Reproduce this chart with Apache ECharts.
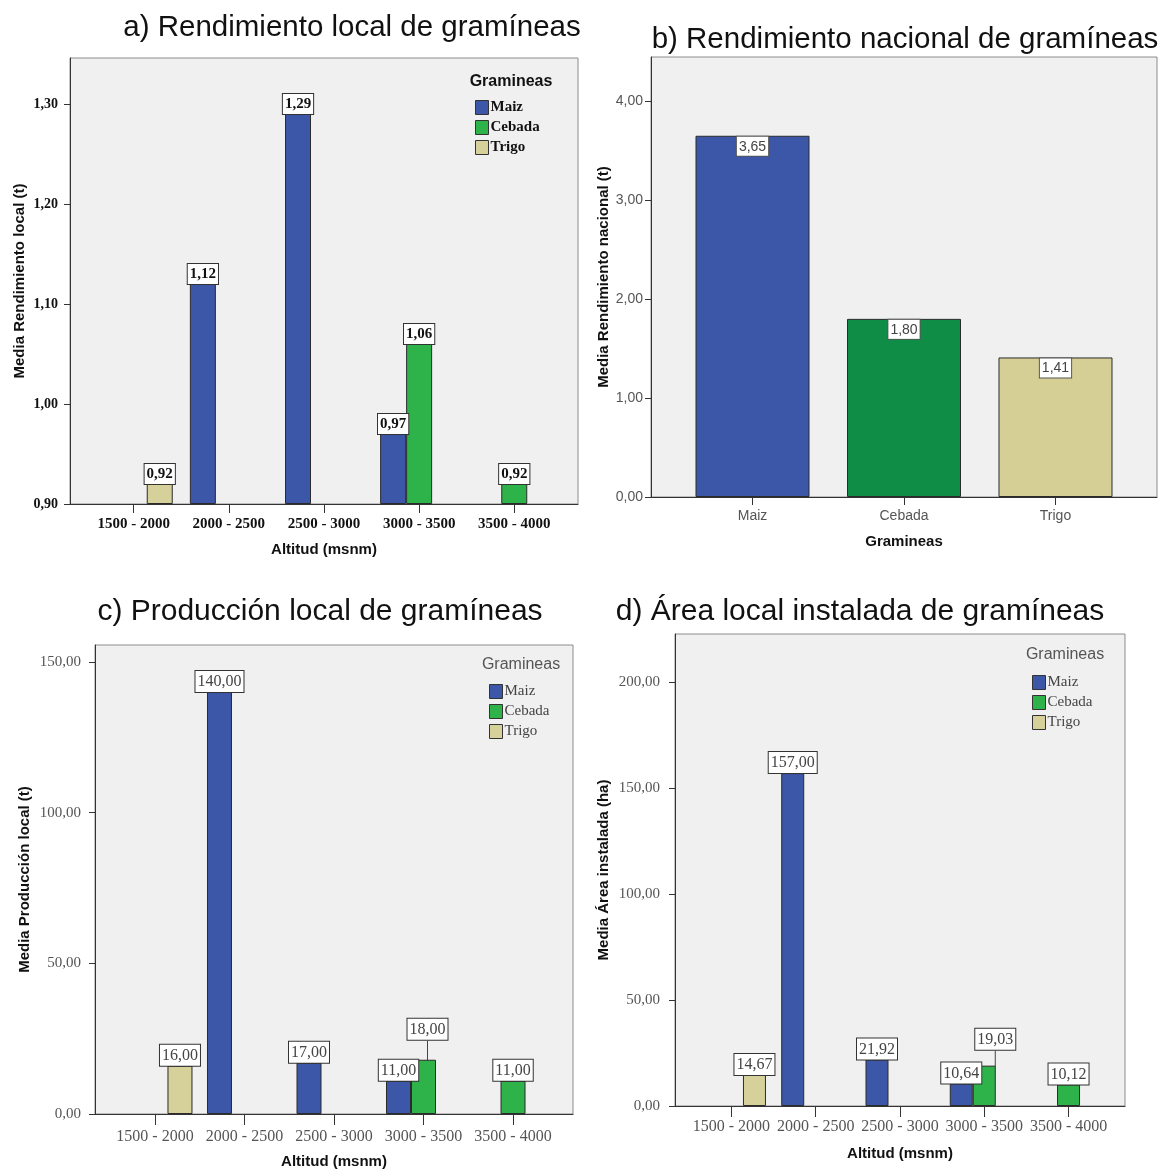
<!DOCTYPE html>
<html>
<head>
<meta charset="utf-8">
<script src="https://cdn.jsdelivr.net/npm/echarts@6/dist/echarts.min.js"></script>
<style>
  html, body { margin: 0; padding: 0; background: #ffffff; }
  #chart { width: 1161px; height: 1169px; }
</style>
</head>
<body>
<div id="chart"></div>
<script>
// Altitude bands (msnm) and crop names
const altitudes = ['1500 - 2000', '2000 - 2500', '2500 - 3000', '3000 - 3500', '3500 - 4000'];
const crops = ['Maiz', 'Cebada', 'Trigo'];

// a) Mean local yield (t) per altitude band
const rendLocalMaiz   = [null, 1.12, 1.29, 0.97, null];
const rendLocalCebada = [null, null, null, 1.06, 0.92];
const rendLocalTrigo  = [0.92, null, null, null, null];

// b) Mean national yield (t) per crop
const rendNacional = [3.65, 1.80, 1.41];

// c) Mean local production (t) per altitude band
const prodLocalMaiz   = [null, 140.00, 17.00, 11.00, null];
const prodLocalCebada = [null, null, null, 18.00, 11.00];
const prodLocalTrigo  = [16.00, null, null, null, null];

// d) Mean installed area (ha) per altitude band
const areaMaiz   = [null, 157.00, 21.92, 10.64, null];
const areaCebada = [null, null, null, 19.03, 10.12];
const areaTrigo  = [14.67, null, null, null, null];

// Value-axis tick labels
const yTicksA = [0.90, 1.00, 1.10, 1.20, 1.30];
const yTicksB = [0, 1, 2, 3, 4];
const yTicksC = [0, 50, 100, 150];
const yTicksD = [0, 50, 100, 150, 200];

const SANS = '"Liberation Sans", Arial, sans-serif';
const NARROW = '"Liberation Sans Narrow", "Liberation Sans", Arial, sans-serif';
const SERIF = '"Liberation Serif", "Times New Roman", serif';

const CROP_COLOR = { Maiz: '#3c56a8', Cebada: '#2db34a', Trigo: '#d6d09a' };
const NATIONAL_COLOR = ['#3c56a8', '#0f8c45', '#d5cf96'];

const fmt2 = v => Number(v).toFixed(2).replace('.', ',');

// category slots sit at 1..n on a value axis, so the outer padding can be set freely
const altPos = altitudes.map((_, i) => i + 1);
const cropPos = crops.map((_, i) => i + 1);

const grids = [
  { left: 70,  top: 58,  width: 508, height: 446 },   // a
  { left: 651, top: 57,  width: 506, height: 440 },   // b
  { left: 95,  top: 645, width: 478, height: 469 },   // c
  { left: 675, top: 634, width: 450, height: 472 }    // d
].map(g => Object.assign({
  show: true, backgroundColor: '#f0f0f0', borderColor: '#8c8c8c', borderWidth: 1,
  containLabel: false, outerBoundsMode: 'none'
}, g));

function xAxisFor(gridIndex, positions, names, o) {
  return {
    type: 'value', gridIndex: gridIndex,
    min: 0.33, max: positions.length + 0.67,
    axisLine: { show: true, onZero: false, lineStyle: { color: '#333', width: 1 } },
    axisTick: { show: true, customValues: positions, length: o.tickLen, lineStyle: { color: '#333' } },
    axisLabel: Object.assign({
      customValues: positions, hideOverlap: false,
      formatter: v => names[Math.round(v) - 1] || ''
    }, o.label),
    splitLine: { show: false },
    name: o.name, nameLocation: 'middle', nameGap: o.nameGap,
    nameTextStyle: { fontFamily: SANS, fontWeight: 'bold', fontSize: 15, color: '#111' }
  };
}

function yAxisFor(gridIndex, ticks, max, o) {
  return {
    type: 'value', gridIndex: gridIndex,
    min: ticks[0], max: max, startValue: ticks[0],
    axisLine: { show: true, lineStyle: { color: '#333', width: 1 } },
    axisTick: { show: true, customValues: ticks, length: 6, lineStyle: { color: '#333' } },
    axisLabel: Object.assign({ customValues: ticks, formatter: v => fmt2(v) }, o.label),
    splitLine: { show: false },
    name: o.name, nameLocation: 'middle', nameGap: o.nameGap,
    nameTextStyle: { fontFamily: SANS, fontWeight: 'bold', fontSize: 15, color: '#111' }
  };
}

function localSeries(axisIndex, crop, values, o) {
  const s = {
    type: 'bar', name: crop, xAxisIndex: axisIndex, yAxisIndex: axisIndex,
    data: values.map((v, i) => [altPos[i], v]),
    barWidth: o.barWidth, barGap: '0%',
    itemStyle: { color: CROP_COLOR[crop], borderColor: '#2b2b2b', borderWidth: 1 },
    label: Object.assign({
      show: true, position: 'top', distance: 0,
      formatter: p => (p.value[1] == null ? '' : fmt2(p.value[1])),
      backgroundColor: '#ffffff', borderColor: '#333', borderWidth: 1
    }, o.label),
    emphasis: { disabled: true }
  };
  if (o.shift) {
    // move a crowded label up and draw a guide line back to its bar
    s.labelLayout = p => (p.dataIndex === o.shift.index ? { dx: o.shift.dx, dy: o.shift.dy } : {});
    s.labelLine = { show: true, lineStyle: { color: '#444', width: 1 } };
  }
  return s;
}

const labelA = { fontFamily: SERIF, fontWeight: 'bold', fontSize: 15, color: '#111', padding: [3, 2, 2, 2] };
const labelCD = { fontFamily: SERIF, fontSize: 16, color: '#444', padding: [3, 2, 2, 2] };

const legendBase = {
  data: crops, orient: 'vertical', icon: 'rect',
  itemWidth: 13, itemHeight: 14, itemGap: 5, padding: 0, selectedMode: false,
  itemStyle: { borderColor: '#333', borderWidth: 1 }
};

const option = {
  animation: false,
  grid: grids,
  xAxis: [
    xAxisFor(0, altPos, altitudes, { tickLen: 9, nameGap: 38, name: 'Altitud (msnm)',
      label: { fontFamily: SERIF, fontWeight: 'bold', fontSize: 15, color: '#111', margin: 13 } }),
    xAxisFor(1, cropPos, crops, { tickLen: 8, nameGap: 37, name: 'Gramineas',
      label: { fontFamily: NARROW, fontSize: 14, color: '#555', margin: 12 } }),
    xAxisFor(2, altPos, altitudes, { tickLen: 11, nameGap: 40, name: 'Altitud (msnm)',
      label: { fontFamily: SERIF, fontSize: 16, color: '#555', margin: 15 } }),
    xAxisFor(3, altPos, altitudes, { tickLen: 11, nameGap: 40, name: 'Altitud (msnm)',
      label: { fontFamily: SERIF, fontSize: 16, color: '#555', margin: 13 } })
  ],
  yAxis: [
    yAxisFor(0, yTicksA, 1.346, { name: 'Media Rendimiento local (t)', nameGap: 43,
      label: { fontFamily: SERIF, fontWeight: 'bold', fontSize: 14, color: '#111', margin: 12 } }),
    yAxisFor(1, yTicksB, 4.446, { name: 'Media Rendimiento nacional (t)', nameGap: 40,
      label: { fontFamily: NARROW, fontSize: 14, color: '#555', margin: 8 } }),
    yAxisFor(2, yTicksC, 155.6, { name: 'Media Producción local (t)', nameGap: 63,
      label: { fontFamily: SERIF, fontSize: 15, color: '#555', margin: 14 } }),
    yAxisFor(3, yTicksD, 222.6, { name: 'Media Área instalada (ha)', nameGap: 64,
      label: { fontFamily: SERIF, fontSize: 15, color: '#555', margin: 15 } })
  ],
  legend: [
    Object.assign({}, legendBase, { left: 475, top: 100,
      textStyle: { fontFamily: SERIF, fontWeight: 'bold', fontSize: 15, color: '#111', padding: [0, 0, 0, -3] } }),
    Object.assign({}, legendBase, { left: 489, top: 684,
      textStyle: { fontFamily: SERIF, fontSize: 15, color: '#444', padding: [0, 0, 0, -3] } }),
    Object.assign({}, legendBase, { left: 1032, top: 675,
      textStyle: { fontFamily: SERIF, fontSize: 15, color: '#444', padding: [0, 0, 0, -3] } })
  ],
  graphic: [
    { type: 'text', x: 352, y: 28, style: { text: 'a) Rendimiento local de gramíneas', font: '29.5px ' + SANS, fill: '#111', textAlign: 'center', textVerticalAlign: 'middle' } },
    { type: 'text', x: 905, y: 40, style: { text: 'b) Rendimiento nacional de gramíneas', font: '29.5px ' + SANS, fill: '#111', textAlign: 'center', textVerticalAlign: 'middle' } },
    { type: 'text', x: 320, y: 612, style: { text: 'c) Producción local de gramíneas', font: '30px ' + SANS, fill: '#111', textAlign: 'center', textVerticalAlign: 'middle' } },
    { type: 'text', x: 860, y: 612, style: { text: 'd) Área local instalada de gramíneas', font: '30px ' + SANS, fill: '#111', textAlign: 'center', textVerticalAlign: 'middle' } },
    { type: 'text', x: 511, y: 82, style: { text: 'Gramineas', font: 'bold 16px ' + SANS, fill: '#111', textAlign: 'center', textVerticalAlign: 'middle' } },
    { type: 'text', x: 521, y: 665, style: { text: 'Gramineas', font: '16px ' + SANS, fill: '#555', textAlign: 'center', textVerticalAlign: 'middle' } },
    { type: 'text', x: 1065, y: 655, style: { text: 'Gramineas', font: '16px ' + SANS, fill: '#555', textAlign: 'center', textVerticalAlign: 'middle' } }
  ],
  series: [
    // a) local yield
    localSeries(0, 'Maiz', rendLocalMaiz, { barWidth: 26, label: labelA }),
    localSeries(0, 'Cebada', rendLocalCebada, { barWidth: 26, label: labelA }),
    localSeries(0, 'Trigo', rendLocalTrigo, { barWidth: 26, label: labelA }),
    // b) national yield, one colour per crop
    {
      type: 'bar', name: 'Rendimiento nacional', xAxisIndex: 1, yAxisIndex: 1,
      data: rendNacional.map((v, i) => ({ value: [cropPos[i], v], itemStyle: { color: NATIONAL_COLOR[i] } })),
      barWidth: 114,
      itemStyle: { borderColor: '#2b2b2b', borderWidth: 1 },
      label: {
        show: true, position: 'insideTop', distance: 1,
        formatter: p => fmt2(p.value[1]),
        fontFamily: NARROW, fontSize: 14, color: '#444',
        backgroundColor: '#ffffff', borderColor: '#555', borderWidth: 1, padding: [3, 2, 2, 2]
      },
      emphasis: { disabled: true }
    },
    // c) local production
    localSeries(2, 'Maiz', prodLocalMaiz, { barWidth: 25, label: labelCD }),
    localSeries(2, 'Cebada', prodLocalCebada, { barWidth: 25, label: labelCD, shift: { index: 3, dx: 4, dy: -20 } }),
    localSeries(2, 'Trigo', prodLocalTrigo, { barWidth: 25, label: labelCD }),
    // d) installed area
    localSeries(3, 'Maiz', areaMaiz, { barWidth: 23, label: labelCD }),
    localSeries(3, 'Cebada', areaCebada, { barWidth: 23, label: labelCD, shift: { index: 3, dx: 11, dy: -16 } }),
    localSeries(3, 'Trigo', areaTrigo, { barWidth: 23, label: labelCD })
  ]
};

const chart = echarts.init(document.getElementById('chart'), null, { renderer: 'canvas' });
chart.setOption(option);
</script>
</body>
</html>
